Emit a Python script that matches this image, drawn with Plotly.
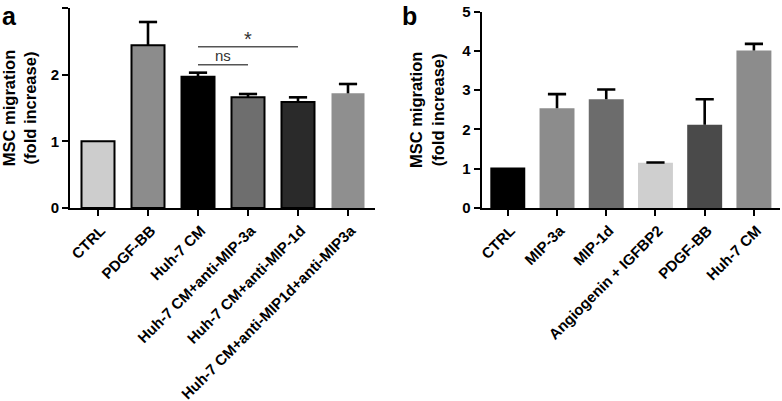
import plotly.graph_objects as go

# Panel a data
cats_a = ["CTRL", "PDGF-BB", "Huh-7 CM", "Huh-7 CM+anti-MIP-3a",
          "Huh-7 CM+anti-MIP-1d", "Huh-7 CM+anti-MIP1d+anti-MIP3a"]
vals_a = [1.0, 2.44, 1.97, 1.66, 1.59, 1.72]
err_a = [0.0, 0.35, 0.06, 0.05, 0.07, 0.14]
colors_a = ["#cdcdcd", "#8c8c8c", "#000000", "#6e6e6e", "#2a2a2a", "#8f8f8f"]
outline_a = [2, 2, 2, 2, 2, 0]

# Panel b data
cats_b = ["CTRL", "MIP-3a", "MIP-1d", "Angiogenin + IGFBP2", "PDGF-BB", "Huh-7 CM"]
vals_b = [1.03, 2.54, 2.77, 1.15, 2.12, 4.01]
err_b = [0.0, 0.36, 0.25, 0.01, 0.65, 0.17]
colors_b = ["#000000", "#8c8c8c", "#6c6c6c", "#cfcfcf", "#4a4a4a", "#8c8c8c"]

# significance brackets (panel a): from-category, to-category, height, label
sig_from = [2, 2]
sig_to = [4, 3]
sig_y = [2.42, 2.15]
sig_text = ["*", "ns"]

FONT = "Liberation Sans"
W, H = 782, 401

fig = go.Figure()


def add_panel(xa, ya, vals, errs, colors, outline, bw):
    xs = list(range(len(vals)))
    fig.add_trace(go.Bar(
        x=xs, y=vals, width=bw,
        marker=dict(color=colors, line=dict(color="black", width=outline)),
        xaxis=xa, yaxis=ya, showlegend=False, hoverinfo="skip"))
    # upper-only error bars: stem via error_y (no caps), cap via line marker
    ex = [x for x, e in zip(xs, errs) if e > 0]
    etop = [v + e for v, e in zip(vals, errs) if e > 0]
    eminus = [e for e in errs if e > 0]
    fig.add_trace(go.Scatter(
        x=ex, y=etop, mode="markers",
        marker=dict(symbol="line-ew", size=13, line=dict(color="black", width=2.6)),
        error_y=dict(type="data", symmetric=False, array=[0] * len(ex),
                     arrayminus=eminus, color="black", thickness=2.6, width=0),
        xaxis=xa, yaxis=ya, showlegend=False, hoverinfo="skip"))


add_panel("x", "y", vals_a, err_a, colors_a, outline_a, 0.66)
add_panel("x2", "y2", vals_b, err_b, colors_b, [0] * len(vals_b), 0.71)

ybot = (H - 208) / H

axis_common = dict(showline=True, linecolor="black", linewidth=2,
                   ticks="outside", ticklen=6, tickwidth=2, tickcolor="black",
                   showgrid=False, zeroline=False, automargin=False,
                   tickfont=dict(family=FONT, size=15, color="black", weight="bold"))
title_font = dict(family=FONT, size=16.5, color="black", weight="bold")

fig.update_layout(
    width=W, height=H, margin=dict(l=0, r=0, t=0, b=0, autoexpand=False),
    plot_bgcolor="white", paper_bgcolor="white",
    font=dict(family=FONT, color="black"),
    xaxis=dict(domain=[70 / W, 375 / W], range=[-0.56, 5.54],
               tickmode="array", tickvals=list(range(len(cats_a))), ticktext=cats_a,
               tickangle=-45, anchor="y", ticklabelshift=3, **axis_common),
    yaxis=dict(domain=[ybot, (H - 8) / H], range=[0, 3], dtick=1,
               anchor="x",
               title=dict(text="MSC migration<br>(fold increase)",
                          font=title_font, standoff=12),
               **axis_common),
    xaxis2=dict(domain=[481.7 / W, 780 / W], range=[-0.53, 5.53],
                tickmode="array", tickvals=list(range(len(cats_b))), ticktext=cats_b,
                tickangle=-45, anchor="y2", ticklabelshift=3, **axis_common),
    yaxis2=dict(domain=[ybot, (H - 11.7) / H], range=[0, 5], dtick=1,
                anchor="x2",
                title=dict(text="MSC migration<br>(fold increase)",
                           font=title_font, standoff=14),
                **axis_common),
)

for x0, x1, yv, label in zip(sig_from, sig_to, sig_y, sig_text):
    fig.add_shape(type="line", xref="x", yref="y", x0=x0, x1=x1, y0=yv, y1=yv,
                  line=dict(color="#555555", width=1.5))
    big = label == "*"
    fig.add_annotation(xref="x", yref="y", x=(x0 + x1) / 2, y=yv, text=label,
                       showarrow=False, yanchor="bottom", yshift=-5 if big else -1,
                       font=dict(family=FONT, size=20 if big else 15, color="#333333"))

# panel letters
fig.add_annotation(xref="paper", yref="paper", x=0 / W, y=1.0,
                   text="<b>a</b>", showarrow=False, xanchor="left", yanchor="top",
                   font=dict(family=FONT, size=25, color="black"))
fig.add_annotation(xref="paper", yref="paper", x=400 / W, y=1.0,
                   text="<b>b</b>", showarrow=False, xanchor="left", yanchor="top",
                   font=dict(family=FONT, size=25, color="black"))

fig.write_html("out.html", config={"displayModeBar": False},
               post_script="document.body.style.margin='0';")
